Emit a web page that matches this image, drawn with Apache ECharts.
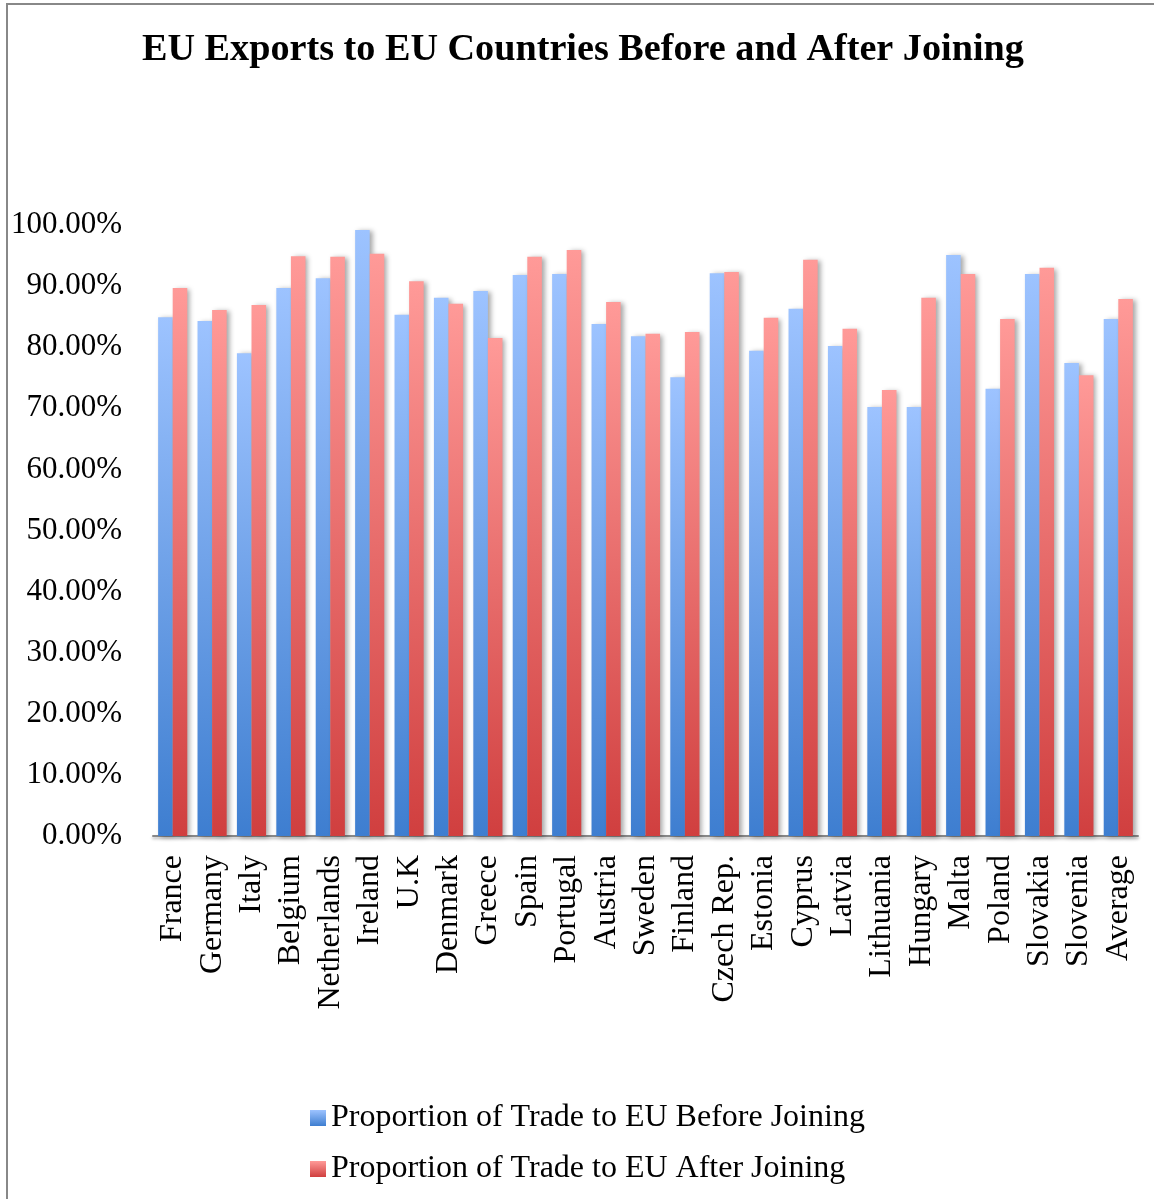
<!DOCTYPE html>
<html>
<head>
<meta charset="utf-8">
<script src="https://cdn.jsdelivr.net/npm/echarts@6/dist/echarts.min.js"></script>
<style>
html,body{margin:0;padding:0;background:#fff;}
#chart{width:1154px;height:1199px;}
</style>
</head>
<body>
<div id="chart"></div>
<script>
const titleText = 'EU Exports to EU Countries Before and After Joining';
const categories = ['France','Germany','Italy','Belgium','Netherlands','Ireland','U.K','Denmark','Greece','Spain','Portugal','Austria','Sweden','Finland','Czech Rep.','Estonia','Cyprus','Latvia','Lithuania','Hungary','Malta','Poland','Slovakia','Slovenia','Average'];
const seriesNames = ['Proportion of Trade to EU Before Joining','Proportion of Trade to EU After Joining'];
const beforeJoining = [84.9,84.3,79.0,89.7,91.3,99.2,85.3,88.1,89.2,91.8,92.0,83.8,81.8,75.1,92.1,79.4,86.3,80.2,70.2,70.2,95.1,73.2,92.0,77.4,84.6];
const afterJoining  = [89.7,86.1,86.9,94.9,94.8,95.3,90.8,87.1,81.5,94.8,95.9,87.4,82.2,82.5,92.3,84.8,94.3,83.0,73.0,88.1,92.0,84.6,93.0,75.4,87.9];
const yTicks = {min:0, max:100, interval:10};

const chart = echarts.init(document.getElementById('chart'), null, {renderer:'canvas'});
const serif = '"Liberation Serif","Times New Roman",serif';
function grad(top, bottom){
  return new echarts.graphic.LinearGradient(0,0,0,1,[{offset:0,color:top},{offset:1,color:bottom}]);
}
const barShadow = {shadowColor:'rgba(0,0,0,0.35)', shadowBlur:5, shadowOffsetX:3, shadowOffsetY:1};
chart.setOption({
  backgroundColor:'#fff',
  animation:false,
  graphic:[{
    type:'polyline',
    shape:{points:[[7,1199],[7,4],[1154,4]]},
    style:{stroke:'#888', lineWidth:2, fill:null}
  }],
  title:{
    text:titleText, left:137, top:26,
    textStyle:{fontFamily:serif, fontWeight:'bold', fontSize:38.2, color:'#000'}
  },
  legend:{
    orient:'vertical', left:305, top:1097, itemGap:19,
    itemWidth:16, itemHeight:16, icon:'rect',
    textStyle:{fontFamily:serif, fontSize:32, color:'#000'},
    data:seriesNames
  },
  grid:{left:153, right:16, top:225, bottom:363, containLabel:false},
  xAxis:{
    type:'category', data:categories,
    axisLine:{lineStyle:{color:'#888', width:2, shadowColor:'rgba(0,0,0,0.3)', shadowBlur:3, shadowOffsetY:2}},
    axisTick:{show:false},
    axisLabel:{rotate:90, margin:19, interval:0, fontFamily:serif, fontSize:32, color:'#000'}
  },
  yAxis:{
    type:'value', min:yTicks.min, max:yTicks.max, interval:yTicks.interval,
    axisLine:{show:false}, axisTick:{show:false}, splitLine:{show:false},
    axisLabel:{margin:31, padding:[4,0,0,0], fontFamily:serif, fontSize:31, color:'#000',
      formatter:v=>v.toFixed(2)+'%'}
  },
  series:[
    {name:seriesNames[0], type:'bar', data:beforeJoining, barGap:'0%', barCategoryGap:'26%',
     itemStyle:Object.assign({color:grad('#9DC3FF','#3E7ED0')}, barShadow)},
    {name:seriesNames[1], type:'bar', data:afterJoining, barGap:'0%', barCategoryGap:'26%',
     itemStyle:Object.assign({color:grad('#FF9A98','#D03F3F')}, barShadow)}
  ]
});
</script>
</body>
</html>
